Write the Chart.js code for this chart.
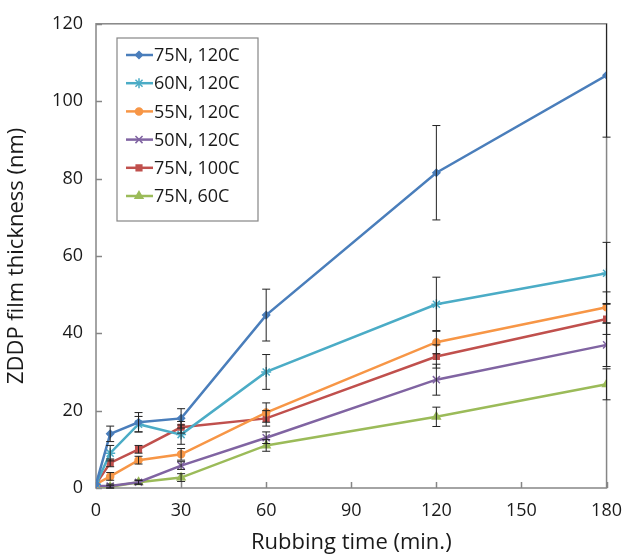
<!DOCTYPE html>
<html>
<head>
<meta charset="utf-8">
<script src="https://cdn.jsdelivr.net/npm/chart.js@4.4.1/dist/chart.umd.min.js"></script>
<style>
  html, body { margin: 0; padding: 0; background: #fff; }
  #wrap { width: 634px; height: 556px; }
</style>
</head>
<body>
<div id="wrap"><canvas id="filmChart"></canvas></div>
<script>
// rubbing time (min.)
const times = [0, 5, 15, 30, 60, 120, 180];

// film thickness (nm) per condition
const n75c120 = [1, 14, 17, 18, 44.7, 81.5, 106.7];
const n60c120 = [1, 9, 16.5, 13.8, 30, 47.5, 55.5];
const n55c120 = [1, 3, 7.2, 8.7, 19.5, 37.7, 46.7];
const n50c120 = [0.5, 0.5, 1.5, 5.8, 13, 28, 37];
const n75c100 = [1, 6.5, 10, 15.7, 18, 34, 43.7];
const n75c60 = [0.5, 0.3, 1.5, 2.7, 11, 18.4, 26.8];

// error bar half-widths
const err75c120 = [0, 2, 2.5, 2.5, 6.7, 12.2, 16];
const err60c120 = [0, 2, 2, 2.5, 4.5, 7, 8];
const err55c120 = [0, 1, 1, 1.5, 2.5, 3, 4];
const err50c120 = [0, 0.5, 0.5, 1, 1.5, 4, 5.6];
const err75c100 = [0, 1, 1, 1.5, 2, 3, 4];
const err75c60 = [0, 0.3, 0.5, 1, 1.5, 2.5, 4];

const labels = ["75N, 120C", "60N, 120C", "55N, 120C", "50N, 120C", "75N, 100C", "75N, 60C"];
const xTicks = [0, 30, 60, 90, 120, 150, 180];
const yTicks = [0, 20, 40, 60, 80, 100, 120];

const FONT = "'Open Sans', Lato, sans-serif";
const TEXT = "#1a1a1a";

function pts(vals) {
    return vals.map(function (v, i) { return { x: times[i], y: v }; });
}

function series(label, vals, errs, color, style, radius) {
    return {
        label: label,
        data: pts(vals),
        errors: errs,
        borderColor: color,
        backgroundColor: color,
        pointBackgroundColor: color,
        pointBorderColor: color,
        pointStyle: style,
        pointRadius: radius,
        pointBorderWidth: 1.5,
        borderWidth: 2.5,
        tension: 0,
    };
}

const datasets = [
    series(labels[0], n75c120, err75c120, "#4a7ebb", "rectRot", 3.5),
    series(labels[1], n60c120, err60c120, "#4bacc6", "star", 5),
    series(labels[2], n55c120, err55c120, "#f79646", "circle", 3.5),
    series(labels[3], n50c120, err50c120, "#8064a2", "crossRot", 5),
    series(labels[4], n75c100, err75c100, "#c0504d", "rect", 4),
    series(labels[5], n75c60, err75c60, "#9bbb59", "triangle", 4.5),
];

// error bars with caps
const errorBars = {
    id: "errorBars",
    afterDatasetsDraw(chart) {
        const { ctx, scales: { x, y } } = chart;
        ctx.save();
        ctx.strokeStyle = "#222";
        ctx.lineWidth = 1;
        chart.data.datasets.forEach(function (ds) {
            ds.data.forEach(function (p, i) {
                const e = ds.errors[i];
                if (!e) return;
                const px = x.getPixelForValue(p.x);
                const top = y.getPixelForValue(Math.min(p.y + e, 120));
                const bot = y.getPixelForValue(p.y - e);
                ctx.beginPath();
                ctx.moveTo(px, top); ctx.lineTo(px, bot);
                if (p.y + e <= 120) { ctx.moveTo(px - 4, top); ctx.lineTo(px + 4, top); }
                ctx.moveTo(px - 4, bot); ctx.lineTo(px + 4, bot);
                ctx.stroke();
            });
        });
        ctx.restore();
    },
};

// frame around plot area and inward tick marks
const frameTicks = {
    id: "frameTicks",
    beforeDatasetsDraw(chart) {
        const { ctx, chartArea: { left, top, right, bottom }, scales: { x, y } } = chart;
        ctx.save();
        ctx.strokeStyle = "#868686";
        ctx.lineWidth = 1.5;
        ctx.strokeRect(left, top, right - left, bottom - top);
        ctx.beginPath();
        xTicks.forEach(function (t) {
            const px = Math.round(x.getPixelForValue(t)) + 0.5;
            ctx.moveTo(px, bottom); ctx.lineTo(px, bottom - 6);
        });
        yTicks.forEach(function (t) {
            const py = Math.round(y.getPixelForValue(t)) + 0.5;
            ctx.moveTo(left, py); ctx.lineTo(left + 6, py);
        });
        ctx.stroke();
        ctx.restore();
    },
};

// legend box with line + marker samples
const boxLegend = {
    id: "boxLegend",
    afterDraw(chart) {
        const ctx = chart.ctx;
        const bx = 117, by = 38, bw = 141, bh = 183;
        ctx.save();
        ctx.fillStyle = "#fff";
        ctx.fillRect(bx, by, bw, bh);
        ctx.strokeStyle = "#868686";
        ctx.lineWidth = 1.2;
        ctx.strokeRect(bx, by, bw, bh);
        ctx.font = "18px " + FONT;
        ctx.textBaseline = "middle";
        chart.data.datasets.forEach(function (ds, i) {
            const cy = by + 17 + i * 28.2;
            ctx.strokeStyle = ds.borderColor;
            ctx.lineWidth = 2.5;
            ctx.beginPath();
            ctx.moveTo(bx + 9, cy); ctx.lineTo(bx + 36, cy);
            ctx.stroke();
            ctx.fillStyle = ds.borderColor;
            ctx.lineWidth = 1.5;
            Chart.helpers.drawPoint(ctx, { pointStyle: ds.pointStyle, radius: ds.pointRadius, borderWidth: 1.5 }, bx + 22, cy);
            ctx.fillStyle = TEXT;
            ctx.fillText(ds.label, bx + 37, cy + 1);
        });
        ctx.restore();
    },
};

new Chart(document.getElementById("filmChart"), {
    type: "line",
    data: { datasets: datasets },
    options: {
        responsive: true,
        maintainAspectRatio: false,
        animation: false,
        layout: { padding: { left: 0, right: 20, top: 20, bottom: 0 } },
        plugins: {
            legend: { display: false },
            tooltip: { enabled: false },
        },
        scales: {
            x: {
                type: "linear",
                min: 0,
                max: 180,
                afterBuildTicks: function (s) { s.ticks = xTicks.map(function (v) { return { value: v }; }); },
                grid: { display: false, drawTicks: false },
                border: { display: false },
                ticks: { color: TEXT, font: { family: FONT, size: 18 }, padding: 12, maxRotation: 0 },
                title: { display: true, text: "Rubbing time (min.)", color: TEXT, font: { family: FONT, size: 22 }, padding: { top: 8, bottom: 0 } },
                afterFit: function (s) { s.height = 68; },
            },
            y: {
                min: 0,
                max: 120,
                afterBuildTicks: function (s) { s.ticks = yTicks.map(function (v) { return { value: v }; }); },
                grid: { display: false, drawTicks: false },
                border: { display: false },
                ticks: { color: TEXT, font: { family: FONT, size: 18 }, padding: 13 },
                title: { display: true, text: "ZDDP film thickness (nm)", color: TEXT, font: { family: FONT, size: 22 }, padding: { bottom: 4 } },
                afterFit: function (s) { s.width = 96; },
            },
        },
    },
    plugins: [frameTicks, errorBars, boxLegend],
});
</script>
</body>
</html>
